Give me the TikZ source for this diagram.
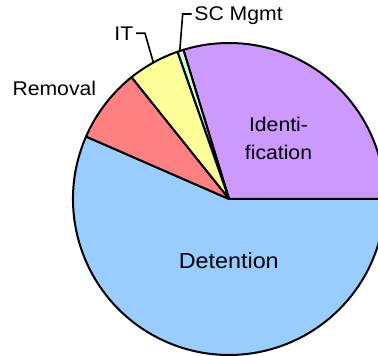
\documentclass[tikz,border=0pt]{standalone}
\usepackage{fontspec}
\setmainfont[FakeStretch=1.07]{Liberation Sans}
\definecolor{identcol}{HTML}{CC99FF}
\definecolor{sccol}{HTML}{CCFFCC}
\definecolor{itcol}{HTML}{FFFF99}
\definecolor{remcol}{HTML}{FF8080}
\definecolor{detcol}{HTML}{99CCFF}

\begin{document}
\begin{tikzpicture}[x=1pt,y=1pt,
        slice/.style={draw=black,line width=2pt,line join=round},
        lbl/.style={font=\fontsize{19.8}{27.4}\selectfont,inner sep=0pt,inner xsep=2.5pt},
        biglbl/.style={lbl,font=\fontsize{21.8}{25}\selectfont},
        leader/.style={draw=black,line width=1.6pt}]
        \useasboundingbox (0,0) rectangle (378,356);
        \clip (0,0) rectangle (378,356);
        \coordinate (ctr) at (229,157);
        % slices
        \draw[slice,fill=detcol] (ctr) -- ++(156.4:156) arc (156.4:360:156) -- cycle;
        \draw[slice,fill=identcol] (ctr) -- ++(0:156) arc (0:107:156) -- cycle;
        \draw[slice,fill=sccol] (ctr) -- ++(107:156) arc (107:109.3:156) -- cycle;
        \draw[slice,fill=itcol] (ctr) -- ++(109.3:156) arc (109.3:128.7:156) -- cycle;
        \draw[slice,fill=remcol] (ctr) -- ++(128.7:156) arc (128.7:156.4:156) -- cycle;
        % labels
        \node [biglbl,anchor=base] (det) at (228.8,87) {Detention};
        \node [lbl,align=center] (ident) at (278.5,217.6) {Identi-\\fication};
        \node [lbl,anchor=base] (rem) at (54.3,260) {Removal};
        \node [lbl,anchor=east] (itlbl) at (136,322.7) {IT};
        \node [lbl,anchor=west,text depth=0pt] (sclbl) at (191.7,342) {SC Mgmt};
        \coordinate (itend) at ([shift={(ctr)}]119:156);
        \coordinate (scend) at ([shift={(ctr)}]108.4:156);
        \draw[leader] (itlbl.east) -- ++(9,0) -- (itend);
        \draw[leader] (sclbl.west) -- ++(-9,0) -- (scend);
\end{tikzpicture}
\end{document}
